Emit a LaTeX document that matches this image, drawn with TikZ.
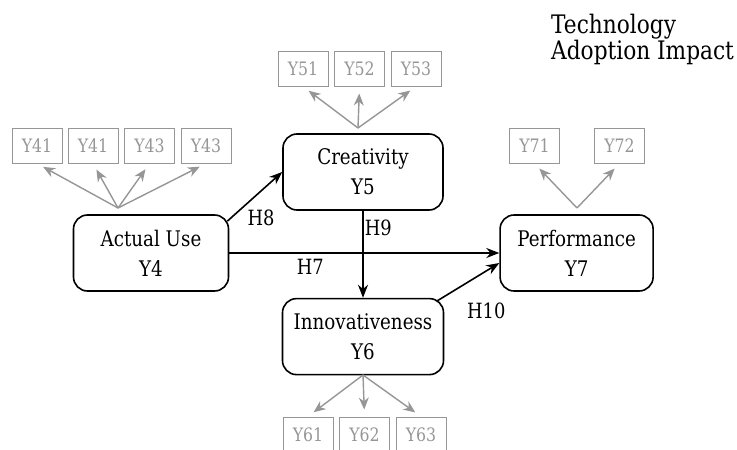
\documentclass[tikz,border=0pt]{standalone}
\usepackage{fontspec}
\setmainfont{DejaVu Serif}[FakeStretch=0.85]
\usepackage{tikz}
\usetikzlibrary{positioning, arrows.meta}
\definecolor{indgray}{RGB}{150,150,150}
\tikzstyle{lv}=[%
      rectangle, rounded corners=14pt, draw=black, line width=1.6pt, fill=none,
      align=center, minimum height=76pt, minimum width=155pt, inner sep=2pt,
      font=\fontsize{21.5}{30}\selectfont
]
\tikzstyle{ind}=[%
      rectangle, draw=indgray, line width=1pt, text=indgray,
      minimum height=35pt, minimum width=50pt, inner sep=0pt,
      font=\fontsize{18.5}{20}\selectfont
]
\tikzstyle{lnk}=[%
      indgray, line width=1.4pt, shorten >=7pt,
      -{Stealth[length=12pt,width=10pt]}
]
\tikzstyle{hyp}=[%
      black, line width=1.6pt,
      -{Stealth[length=13pt,width=10pt]}
]
\tikzstyle{hl}=[font=\fontsize{21}{22}\selectfont, inner sep=3pt]

\begin{document}
\begin{tikzpicture}[x=1pt, y=-1pt]
    \useasboundingbox (0,0) rectangle (737,450);

    \node[lv]                    (y4) at (151,253)    {Actual Use\\Y4};
    \node[lv, minimum width=160pt] (y5) at (363,172)  {Creativity\\Y5};
    \node[lv, minimum width=161pt] (y6) [below = 87pt of y5] {Innovativeness\\Y6};
    \node[lv, minimum width=153pt] (y7) [right = 270pt of y4] {Performance\\Y7};

    \node[anchor=north west, align=left, inner sep=0pt,
          font=\fontsize{25.5}{19}\selectfont] (title) at (551,14)
          {Technology\\Adoption Impact};

    % indicators
    \node[ind] (i41) at (37,145.5)       {Y41};
    \node[ind] (i42) [right = 5pt of i41] {Y41};
    \node[ind] (i43) [right = 5.5pt of i42] {Y43};
    \node[ind] (i44) [right = 5.5pt of i43] {Y43};

    \node[ind] (i51) at (303,68.5)        {Y51};
    \node[ind] (i52) [right = 5.5pt of i51] {Y52};
    \node[ind] (i53) [right = 5.5pt of i52] {Y53};

    \node[ind] (i61) at (308,434.5)       {Y61};
    \node[ind] (i62) [right = 5.5pt of i61] {Y62};
    \node[ind] (i63) [right = 5.5pt of i62] {Y63};

    \node[ind] (i71) at (534.5,145.5)     {Y71};
    \node[ind] (i72) [right = 34pt of i71] {Y72};

    \coordinate (o4) at (118,208);
    \coordinate (o5) at (358,128);
    \coordinate (o6) at (363,375);
    \coordinate (o7) at (577,208);

    \path[lnk] (o4) edge (i41.south) edge (i42.south) edge (i43.south) edge (i44.south)
               (o5) edge (i51.south) edge (i52.south) edge (i53.south)
               (o6) edge (i61.north) edge (i62.north) edge (i63.north)
               (o7) edge (i71.south) edge (i72.south)
    ;

    \path[hyp] ([xshift=-2pt,yshift=-7pt]y4.north east) edge node[hl, pos=0.3, anchor=north west] {H8} (y5.west)
               (y4.east) edge node[hl, pos=0.3, below, yshift=-2pt] {H7} (y7.west)
               (y5.south) edge node[hl, pos=0.2, right, inner sep=1pt] {H9} (y6.north)
               ([xshift=-7pt,yshift=-3pt]y6.north east) edge node[hl, pos=0.42, anchor=north west, yshift=-14pt] {H10} ([yshift=-10pt]y7.west)
    ;

  \end{tikzpicture}
\end{document}
